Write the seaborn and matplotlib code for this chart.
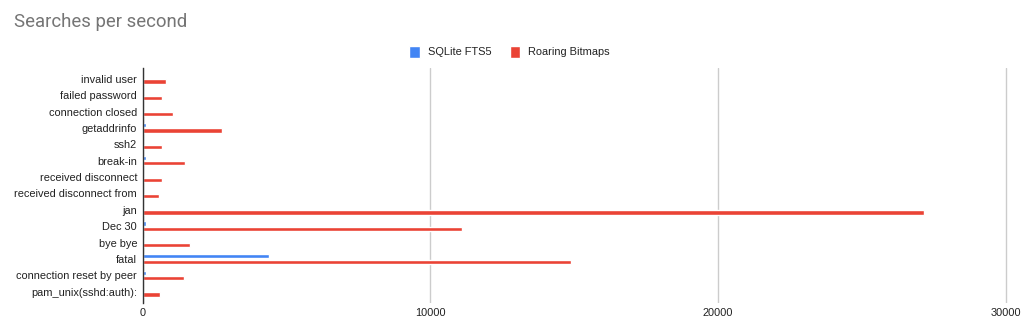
import matplotlib
matplotlib.use("Agg")
import matplotlib.pyplot as plt
import seaborn as sns
import pandas as pd

categories = [
    "invalid user", "failed password", "connection closed", "getaddrinfo",
    "ssh2", "break-in", "received disconnect", "received disconnect from",
    "jan", "Dec 30", "bye bye", "fatal", "connection reset by peer",
    "pam_unix(sshd:auth):",
]
series_names = ["SQLite FTS5", "Roaring Bitmaps"]
sqlite_fts5 = [25, 0, 25, 110, 20, 110, 20, 20, 20, 110, 50, 4380, 110, 0]
roaring_bitmaps = [810, 660, 1060, 2760, 660, 1470, 660, 570, 27150, 11100,
                   1640, 14900, 1430, 600]
x_ticks = [0, 10000, 20000, 30000]
colors = ["#4285f4", "#ea4335"]

df = pd.DataFrame({
    "category": categories * 2,
    "series": [series_names[0]] * len(categories) + [series_names[1]] * len(categories),
    "value": sqlite_fts5 + roaring_bitmaps,
})

sns.set_theme(style="white")
plt.rcParams["font.family"] = ["Liberation Sans", "DejaVu Sans"]

fig = plt.figure(figsize=(10.22, 3.36), dpi=100)
ax = fig.add_axes([142.7 / 1022, 1 - 302.7 / 336, (1010 - 142.7) / 1022, (302.7 - 68) / 336])

sns.barplot(data=df, x="value", y="category", hue="series", order=categories,
            hue_order=series_names, palette=colors, orient="h",
            width=0.65, gap=0.2, saturation=1, ax=ax, legend=True)

ax.set_xlim(0, 30000 * (1010 - 142.7) / (1005.7 - 142.7))
ax.set_ylim(13.67, -0.66)
ax.set_xticks(x_ticks)
ax.set_xticklabels([str(t) for t in x_ticks])
ax.xaxis.grid(True, color="#cccccc", linewidth=1.0)
ax.set_axisbelow(True)
for s in ["top", "right", "bottom"]:
    ax.spines[s].set_visible(False)
ax.spines["left"].set_color("#333333")
ax.spines["left"].set_linewidth(1.0)
ax.spines["left"].set_zorder(5)
ax.tick_params(axis="both", length=0, labelsize=7.9, labelcolor="#222222")
ax.tick_params(axis="x", pad=4)
ax.tick_params(axis="y", pad=4)
ax.set_xlabel("")
ax.set_ylabel("")

leg = ax.legend(loc="center", bbox_to_anchor=(509.7 / 1022, 1 - 51.7 / 336),
                bbox_transform=fig.transFigure, ncol=2, frameon=False,
                fontsize=7.9, handlelength=0.95, handleheight=1.3,
                handletextpad=0.75, columnspacing=1.65)
for t in leg.get_texts():
    t.set_color("#222222")

fig.text(14 / 1022, 1 - 22 / 336, "Searches per second", ha="left", va="center",
         fontsize=13.4, color="#757575", family=["Roboto", "DejaVu Sans"])

fig.savefig("out.png", dpi=100)
